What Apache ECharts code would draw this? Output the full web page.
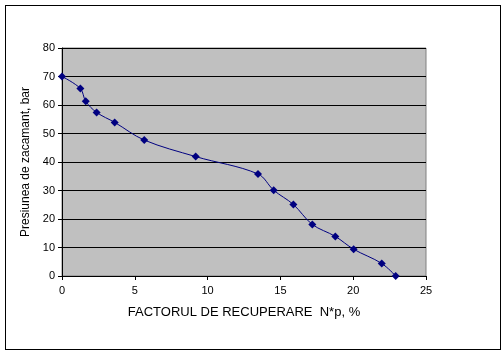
<!DOCTYPE html>
<html>
<head>
<meta charset="utf-8">
<script src="https://cdn.jsdelivr.net/npm/echarts@6/dist/echarts.min.js"></script>
<style>
  html, body { margin: 0; padding: 0; background: #fff; }
  #chart { width: 504px; height: 354px; }
  #frame { position: absolute; left: 5px; top: 5px; width: 494px; height: 343px; border: 1px solid #000; pointer-events: none; }
</style>
</head>
<body>
<div id="chart"></div>
<div id="frame"></div>
<script>
// recovery factor (%) vs. reservoir pressure (bar)
const recovery = [0, 1.26, 1.63, 2.38, 3.62, 5.65, 9.18, 13.46, 14.54, 15.89, 17.19, 18.77, 20.03, 21.96, 22.92];
const pressure = [70, 65.8, 61.3, 57.4, 53.9, 47.7, 41.9, 35.8, 30.1, 25.1, 18.1, 13.9, 9.4, 4.4, 0];

const chart = echarts.init(document.getElementById('chart'));

const labelFont = {
  color: '#000',
  fontFamily: 'Liberation Sans, Arial, sans-serif',
  fontSize: 11
};

const option = {
  animation: false,
  backgroundColor: '#fff',
  grid: {
    left: 62,
    right: 78,
    top: 48,
    bottom: 78,
    show: true,
    backgroundColor: '#c0c0c0',
    borderColor: '#808080',
    borderWidth: 1
  },
  xAxis: {
    type: 'value',
    min: 0,
    max: 25,
    interval: 5,
    name: 'FACTORUL DE RECUPERARE  N*p, %',
    nameLocation: 'middle',
    nameGap: 30,
    nameTextStyle: { ...labelFont, fontSize: 13 },
    axisLine: { show: true, onZero: false, lineStyle: { color: '#000', width: 1 } },
    axisTick: { show: true, length: 4, lineStyle: { color: '#000' } },
    axisLabel: { ...labelFont, margin: 9 },
    splitLine: { show: false }
  },
  yAxis: {
    type: 'value',
    min: 0,
    max: 80,
    interval: 10,
    name: 'Presiunea de zacamant, bar',
    nameLocation: 'middle',
    nameGap: 28,
    nameTextStyle: { ...labelFont, fontSize: 12 },
    axisLine: { show: true, lineStyle: { color: '#000', width: 1 } },
    axisTick: { show: true, length: 4, lineStyle: { color: '#000' } },
    axisLabel: { ...labelFont, margin: 7 },
    splitLine: { show: true, lineStyle: { color: '#000', width: 1 } }
  },
  series: [{
    type: 'line',
    data: recovery.map((x, i) => [x, pressure[i]]),
    smooth: 0.35,
    symbol: 'diamond',
    symbolSize: 8,
    itemStyle: { color: '#000080' },
    lineStyle: { color: '#000080', width: 1 }
  }]
};

chart.setOption(option);
</script>
</body>
</html>
